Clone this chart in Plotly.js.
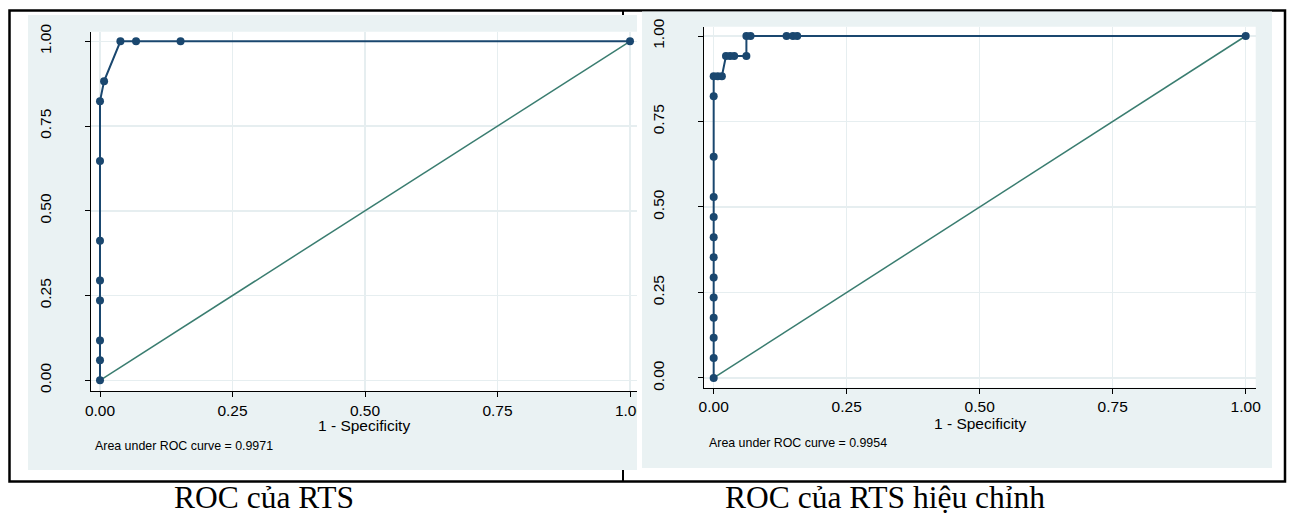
<!DOCTYPE html>
<html>
<head>
<meta charset="utf-8">
<script src="https://cdn.plot.ly/plotly-3.0.1.min.js"></script>
<style>
  html, body { margin: 0; padding: 0; background: #ffffff; }
  #chart { width: 1289px; height: 517px; }
</style>
</head>
<body>
<div id="chart"></div>
<script>
// ---------------- DATA ----------------
// ROC của RTS : 1 - specificity (FPR) and sensitivity (TPR)
const rtsFpr = [0, 0, 0, 0, 0, 0, 0, 0, 0.0077, 0.0385, 0.068, 0.152, 1];
const rtsTpr = [0, 0.0588, 0.1176, 0.2353, 0.2941, 0.4118, 0.6471, 0.8235, 0.8824, 1, 1, 1, 1];

// ROC của RTS hiệu chỉnh
const adjFpr = [0, 0, 0, 0, 0, 0, 0, 0, 0, 0, 0, 0, 0,
                0.0077, 0.0154, 0.0231, 0.0308, 0.0385, 0.0615,
                0.0615, 0.0692, 0.137, 0.149, 0.157, 1];
const adjTpr = [0, 0.0588, 0.1176, 0.1765, 0.2353, 0.2941, 0.3529, 0.4118, 0.4706, 0.5294, 0.6471, 0.8235, 0.8824,
                0.8824, 0.8824, 0.9412, 0.9412, 0.9412, 0.9412,
                1, 1, 1, 1, 1, 1];

// reference (chance) line
const refX = [0, 1];
const refY = [0, 1];

const tickVals = [0, 0.25, 0.5, 0.75, 1];
const tickText = ['0.00', '0.25', '0.50', '0.75', '1.00'];
const xTitleText = '1 - Specificity';
const aucTexts = ['Area under ROC curve = 0.9971', 'Area under ROC curve = 0.9954'];
const captions = ['ROC của RTS', 'ROC của RTS hiệu chỉnh'];

// ---------------- STYLE / LAYOUT ----------------
const W = 1289, H = 517;
const px = x => x / W;
const py = y => 1 - y / H;

const NAVY = '#1a476f';
const TEAL = '#3a7d70';
const BG = '#eaf2f3';
const GRID = '#e6eef0';
const SANS = 'Liberation Sans, Arial, sans-serif';
const SERIF = 'Liberation Serif, Times New Roman, serif';

function xAxis(d0, d1, r0, r1, anchor) {
  return {
    domain: [px(d0), px(d1)], range: [r0, r1], anchor: anchor,
    tickvals: tickVals, ticktext: tickText,
    showline: true, linecolor: '#000', linewidth: 1,
    ticks: 'outside', ticklen: 5, tickcolor: '#000', tickwidth: 1,
    ticklabelstandoff: 0,
    showgrid: true, gridcolor: GRID, gridwidth: 1.5, zeroline: false,
    tickfont: {family: SANS, size: 15.5, color: '#000'},
    fixedrange: true
  };
}
function yAxis(d0, d1, r0, r1, anchor) {
  return {
    domain: [py(d0), py(d1)], range: [r0, r1], anchor: anchor,
    tickvals: tickVals, ticktext: tickText, tickangle: -90,
    showline: true, linecolor: '#000', linewidth: 1,
    ticks: 'outside', ticklen: 5, tickcolor: '#000', tickwidth: 1,
    ticklabelstandoff: 28,
    showgrid: true, gridcolor: GRID, gridwidth: 1.5, zeroline: false,
    tickfont: {family: SANS, size: 15.5, color: '#000'},
    fixedrange: true
  };
}

const curveStyle = {
  mode: 'lines+markers',
  line: {color: NAVY, width: 2},
  marker: {color: NAVY, size: 8},
  hoverinfo: 'skip', showlegend: false
};
const refStyle = {
  mode: 'lines', line: {color: TEAL, width: 1.5},
  hoverinfo: 'skip', showlegend: false
};

const traces = [
  Object.assign({x: refX, y: refY, xaxis: 'x', yaxis: 'y', type: 'scatter'}, refStyle),
  Object.assign({x: rtsFpr, y: rtsTpr, xaxis: 'x', yaxis: 'y', type: 'scatter'}, curveStyle),
  Object.assign({x: refX, y: refY, xaxis: 'x2', yaxis: 'y2', type: 'scatter'}, refStyle),
  Object.assign({x: adjFpr, y: adjTpr, xaxis: 'x2', yaxis: 'y2', type: 'scatter'}, curveStyle)
];

function rectPx(x0, y0, x1, y1, opts) {
  return Object.assign({type: 'rect', xref: 'paper', yref: 'paper',
    x0: px(x0), x1: px(x1), y0: py(y1), y1: py(y0), layer: 'below'}, opts);
}

const shapes = [
  // outer frame and divider
  rectPx(9.5, 10.5, 1285, 481.5, {line: {color: '#000', width: 2.5}, fillcolor: 'rgba(0,0,0,0)'}),
  {type: 'line', xref: 'paper', yref: 'paper', x0: px(623), x1: px(623), y0: py(482), y1: py(10),
   line: {color: '#000', width: 2}, layer: 'below'},
  // graph backgrounds
  rectPx(28, 15, 637, 470, {line: {width: 0}, fillcolor: BG}),
  rectPx(642, 11.5, 1272, 468, {line: {width: 0}, fillcolor: BG}),
  // plot regions
  rectPx(90.7, 31.7, 637, 391, {line: {width: 0}, fillcolor: '#ffffff'}),
  rectPx(704, 26.7, 1255.7, 387.7, {line: {width: 0}, fillcolor: '#ffffff'}),
  // left graph is cropped at its right edge: hide the overflow of the last tick label
  rectPx(637, 398, 642, 422, {line: {width: 0}, fillcolor: '#ffffff', layer: 'above'}),
  rectPx(642, 398, 652, 422, {line: {width: 0}, fillcolor: BG, layer: 'above'})
];

const annotations = [
  // x-axis titles
  {xref: 'paper', yref: 'paper', x: px(364), y: py(425), xanchor: 'center', yanchor: 'middle',
   text: xTitleText, showarrow: false, font: {family: SANS, size: 15.5, color: '#000'}},
  {xref: 'paper', yref: 'paper', x: px(980), y: py(423.5), xanchor: 'center', yanchor: 'middle',
   text: xTitleText, showarrow: false, font: {family: SANS, size: 15.5, color: '#000'}},
  // AUC notes
  {xref: 'paper', yref: 'paper', x: px(93), y: py(446), xanchor: 'left', yanchor: 'middle',
   text: aucTexts[0], showarrow: false, font: {family: SANS, size: 12.4, color: '#000'}},
  {xref: 'paper', yref: 'paper', x: px(707), y: py(443), xanchor: 'left', yanchor: 'middle',
   text: aucTexts[1], showarrow: false, font: {family: SERIF === '' ? SANS : SANS, size: 12.4, color: '#000'}},
  // captions
  {xref: 'paper', yref: 'paper', x: px(264), y: py(516.5), xanchor: 'center', yanchor: 'bottom',
   text: captions[0], showarrow: false, font: {family: SERIF, size: 31.5, color: '#000'}},
  {xref: 'paper', yref: 'paper', x: px(885), y: py(516.5), xanchor: 'center', yanchor: 'bottom',
   text: captions[1], showarrow: false, font: {family: SERIF, size: 31.5, color: '#000'}}
];

const layout = {
  width: W, height: H, autosize: false,
  margin: {l: 0, r: 0, t: 0, b: 0, pad: 0},
  paper_bgcolor: '#ffffff', plot_bgcolor: 'rgba(0,0,0,0)',
  showlegend: false,
  xaxis: xAxis(90.7, 637, -0.01755, 1.0132, 'y'),
  yaxis: yAxis(391, 31.7, -0.0316, 1.0283, 'x'),
  xaxis2: xAxis(704, 1255.7, -0.0182, 1.0188, 'y2'),
  yaxis2: yAxis(387.7, 26.7, -0.0284, 1.0272, 'x2'),
  shapes: shapes,
  annotations: annotations
};

Plotly.newPlot('chart', traces, layout, {displayModeBar: false, staticPlot: true});
</script>
</body>
</html>
